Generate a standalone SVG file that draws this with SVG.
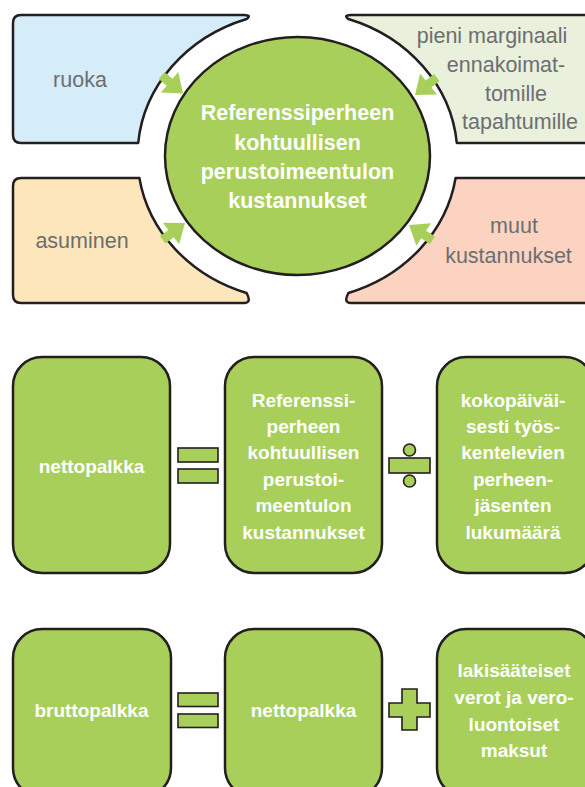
<svg xmlns="http://www.w3.org/2000/svg" width="585" height="787" viewBox="0 0 585 787">
<style>
.bx{stroke:#231f20;stroke-width:2.5;stroke-linejoin:round}
.g{fill:#a8cf5a;stroke:#231f20;stroke-width:2.5}
.op{fill:#a8cf5a;stroke:#231f20;stroke-width:1.6}
.lbl{font-family:"Liberation Sans",Arial,sans-serif;font-size:21.5px;fill:#6d6e71;text-anchor:middle}
.wt{font-family:"Liberation Sans",Arial,sans-serif;font-weight:bold;fill:#ffffff;text-anchor:middle}
.ct{font-size:21.5px}
.bt{font-size:19px}
.arr{fill:#a8cf5a}
</style>
<defs>
<polygon id="arrow" points="-28,-4.5 -17.5,-4.5 -17.5,-13.5 0,0 -17.5,13.5 -17.5,4.5 -28,4.5"/>
</defs>
<rect width="585" height="787" fill="#ffffff"/>

<g id="ruoka">
<path class="bx" fill="#d5edf9" d="M21,15 H244 Q252,15 246.6,19 A160 144.5 0 0 0 138.2,143 H21 Q13,143 13,135 V23 Q13,15 21,15 Z"/>
<text class="lbl" x="80" y="87">ruoka</text>
</g>
<g id="asuminen">
<path class="bx" fill="#fde6bb" d="M21,178 H139.4 A160 144.5 0 0 0 246.6,293 Q252,303 244,303 H21 Q13,303 13,295 V186 Q13,178 21,178 Z"/>
<text class="lbl" x="82" y="248">asuminen</text>
</g>
<g id="pieni">
<path class="bx" fill="#e9f1dc" d="M351,15 H600 V143 H456.8 A160 144.5 0 0 0 348.4,19 Q343,15 351,15 Z"/>
<text class="lbl" x="492" y="43">pieni marginaali</text>
<text class="lbl" x="506" y="72">ennakoimat-</text>
<text class="lbl" x="516" y="101">tomille</text>
<text class="lbl" x="520" y="129">tapahtumille</text>
</g>
<g id="muut">
<path class="bx" fill="#fbd3c0" d="M600,178 V303 H351 Q343,303 348.4,293 A160 144.5 0 0 0 455.6,178 Z"/>
<text class="lbl" x="514" y="233">muut</text>
<text class="lbl" x="508.5" y="263">kustannukset</text>
</g>
<g id="center">
<ellipse class="g" cx="297.5" cy="156" rx="132.5" ry="119"/>
<text class="wt ct" x="297.5" y="120">Referenssiperheen</text>
<text class="wt ct" x="297.5" y="149.5">kohtuullisen</text>
<text class="wt ct" x="297.5" y="179">perustoimeentulon</text>
<text class="wt ct" x="297.5" y="208">kustannukset</text>
</g>

<g id="connectors" class="arr">
<use href="#arrow" transform="translate(183,93.5) rotate(40)"/>
<use href="#arrow" transform="translate(185,223) rotate(-37)"/>
<use href="#arrow" transform="translate(415,95) rotate(141)"/>
<use href="#arrow" transform="translate(409,225) rotate(213)"/>
</g>

<g id="nettopalkka1">
<rect class="g" x="13" y="357" width="157" height="216" rx="29"/>
<text class="wt bt" x="91.5" y="473">nettopalkka</text>
</g>
<g id="eq1">
<rect class="op" x="178" y="448" width="40" height="14"/>
<rect class="op" x="178" y="469" width="40" height="14"/>
</g>
<g id="kustannukset2">
<rect class="g" x="225" y="357" width="157" height="216" rx="29"/>
<text class="wt bt" x="303.5" y="407">Referenssi-</text>
<text class="wt bt" x="303.5" y="433">perheen</text>
<text class="wt bt" x="303.5" y="459">kohtuullisen</text>
<text class="wt bt" x="303.5" y="486">perustoi-</text>
<text class="wt bt" x="303.5" y="512">meentulon</text>
<text class="wt bt" x="303.5" y="539">kustannukset</text>
</g>
<g id="div">
<circle class="op" cx="409.5" cy="450" r="6"/>
<rect class="op" x="389" y="458" width="41" height="15"/>
<circle class="op" cx="409.5" cy="481" r="6"/>
</g>
<g id="jasenet">
<rect class="g" x="437" y="357" width="157" height="216" rx="29"/>
<text class="wt bt" x="513" y="407">kokopäiväi-</text>
<text class="wt bt" x="513" y="433">sesti työs-</text>
<text class="wt bt" x="513" y="459">kentelevien</text>
<text class="wt bt" x="513" y="486">perheen-</text>
<text class="wt bt" x="513" y="512">jäsenten</text>
<text class="wt bt" x="513" y="539">lukumäärä</text>
</g>

<g id="bruttopalkka">
<rect class="g" x="13" y="629" width="158" height="168" rx="29"/>
<text class="wt bt" x="91.5" y="717">bruttopalkka</text>
</g>
<g id="eq2">
<rect class="op" x="178" y="693" width="40" height="13.5"/>
<rect class="op" x="178" y="714" width="40" height="13.5"/>
</g>
<g id="nettopalkka2">
<rect class="g" x="225" y="629" width="157" height="168" rx="29"/>
<text class="wt bt" x="303.5" y="717">nettopalkka</text>
</g>
<g id="plus">
<path class="op" d="M402,689 H417 V703 H430 V717 H417 V730 H402 V717 H389 V703 H402 Z"/>
</g>
<g id="verot">
<rect class="g" x="437" y="629" width="157" height="168" rx="29"/>
<text class="wt bt" x="514" y="677">lakisääteiset</text>
<text class="wt bt" x="514" y="704">verot ja vero-</text>
<text class="wt bt" x="514" y="731">luontoiset</text>
<text class="wt bt" x="514" y="757">maksut</text>
</g>
</svg>
